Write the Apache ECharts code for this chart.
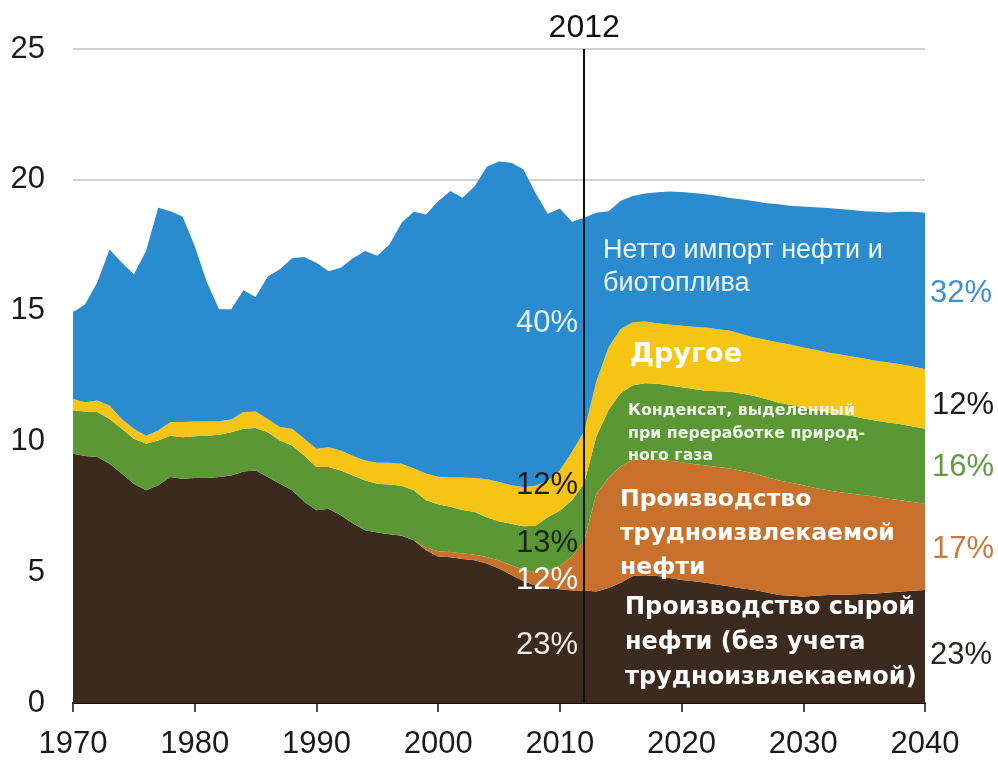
<!DOCTYPE html>
<html>
<head>
<meta charset="utf-8">
<script src="https://cdn.jsdelivr.net/npm/echarts@6/dist/echarts.min.js"></script>
<style>
html,body{margin:0;padding:0;background:#fff;}
#chart{width:998px;height:760px;}
</style>
</head>
<body>
<div id="chart"></div>
<script>
// ---- data (million barrels per day), 1970-2040 ----
var years = ['1970','1971','1972','1973','1974','1975','1976','1977','1978','1979',
  '1980','1981','1982','1983','1984','1985','1986','1987','1988','1989',
  '1990','1991','1992','1993','1994','1995','1996','1997','1998','1999',
  '2000','2001','2002','2003','2004','2005','2006','2007','2008','2009',
  '2010','2011','2012','2013','2014','2015','2016','2017','2018','2019',
  '2020','2021','2022','2023','2024','2025','2026','2027','2028','2029',
  '2030','2031','2032','2033','2034','2035','2036','2037','2038','2039','2040'];

var crudeOil = [9.53,9.44,9.40,9.15,8.77,8.38,8.13,8.32,8.64,8.57,
  8.60,8.60,8.64,8.70,8.85,8.89,8.64,8.38,8.13,7.69,
  7.37,7.43,7.18,6.86,6.60,6.52,6.45,6.39,6.22,5.84,
  5.60,5.57,5.50,5.46,5.33,5.14,4.89,4.66,4.48,4.40,
  4.35,4.30,4.30,4.26,4.40,4.60,4.85,4.88,4.85,4.78,
  4.70,4.65,4.60,4.52,4.45,4.38,4.32,4.22,4.13,4.10,
  4.07,4.10,4.13,4.14,4.15,4.17,4.19,4.22,4.26,4.29,4.32];

var tightOil = [0,0,0,0,0,0,0,0,0,0,
  0,0,0,0,0,0,0,0,0,0,
  0,0,0,0,0,0,0,0,0,0.10,
  0.20,0.20,0.22,0.21,0.25,0.31,0.38,0.44,0.52,0.65,
  0.90,1.30,1.90,3.74,4.20,4.45,4.45,4.46,4.46,4.48,
  4.50,4.49,4.48,4.50,4.51,4.49,4.45,4.42,4.38,4.32,
  4.25,4.12,4.00,3.92,3.85,3.77,3.69,3.59,3.49,3.39,3.30];

var ngpl = [1.65,1.70,1.72,1.71,1.71,1.72,1.78,1.71,1.58,1.59,
  1.60,1.62,1.61,1.65,1.63,1.62,1.71,1.65,1.71,1.77,
  1.65,1.59,1.71,1.84,1.91,1.86,1.90,1.91,1.91,1.81,
  1.80,1.73,1.66,1.63,1.52,1.50,1.58,1.66,1.78,2.05,
  2.10,2.15,2.20,2.20,2.60,2.80,2.85,2.88,2.89,2.88,
  2.87,2.86,2.86,2.90,2.94,2.95,2.97,2.97,2.97,2.97,
  2.98,2.98,2.97,2.97,2.97,2.94,2.91,2.91,2.91,2.89,2.86];

var other = [0.44,0.36,0.44,0.51,0.38,0.38,0.31,0.39,0.52,0.58,
  0.56,0.54,0.52,0.49,0.64,0.63,0.51,0.52,0.64,0.64,
  0.70,0.76,0.76,0.74,0.76,0.80,0.83,0.85,0.83,1.02,
  1.05,1.12,1.24,1.30,1.45,1.50,1.47,1.50,1.52,1.40,
  1.55,1.85,2.00,2.10,2.40,2.45,2.40,2.36,2.32,2.33,
  2.35,2.38,2.41,2.37,2.33,2.28,2.23,2.27,2.30,2.30,
  2.29,2.30,2.30,2.30,2.28,2.29,2.29,2.30,2.29,2.29,2.29];

var netImports = [3.32,3.74,4.52,5.97,5.98,5.91,7.06,8.51,8.06,7.86,
  6.71,5.32,4.28,4.21,4.66,4.38,5.44,6.03,6.52,6.95,
  7.11,6.72,6.99,7.56,8.01,7.92,8.35,9.21,9.82,9.90,
  10.53,10.95,10.69,11.15,11.95,12.25,12.33,12.14,11.20,10.20,
  10.00,8.80,8.15,6.44,5.20,4.90,4.83,4.90,5.00,5.08,
  5.11,5.12,5.10,5.09,5.07,5.15,5.21,5.22,5.29,5.31,
  5.39,5.45,5.52,5.55,5.60,5.63,5.70,5.73,5.83,5.92,5.97];

var xTickLabels = ['1970','1980','1990','2000','2010','2020','2030','2040'];
var yTicks = [0,5,10,15,20,25];
var markYear = '2012';

// ---- chart ----
var FONT = '"Liberation Sans", Arial, sans-serif';
var BOLD = '"DejaVu Sans", Verdana, sans-serif';
function area(name, vals, color, extra){
  var s = {
    name: name, type: 'line', stack: 'total', data: vals,
    symbol: 'none', showSymbol: false, smooth: false,
    lineStyle: {width: 0, color: color},
    areaStyle: {color: color, opacity: 1},
    itemStyle: {color: color},
    silent: true
  };
  if (extra) for (var k in extra) s[k] = extra[k];
  return s;
}
function txt(x, y, text, font, fill, align, vAlign, lh){
  return {type:'text', x:x, y:y, z:100, silent:true,
    style:{text:text, font:font, fill:fill, align:align||'left', verticalAlign:vAlign||'middle',
      textAlign:align||'left', textVerticalAlign:vAlign||'middle', lineHeight:lh}};
}

var chart = echarts.init(document.getElementById('chart'), null, {renderer:'canvas'});
chart.setOption({
  animation: false,
  backgroundColor: '#ffffff',
  grid: {left: 73, right: 73, top: 49, bottom: 55, containLabel: false},
  xAxis: {
    type: 'category', data: years, boundaryGap: false,
    axisLine: {show: true, lineStyle: {color: '#111', width: 2}},
    axisTick: {show: true, length: 9, interval: 9, lineStyle: {color: '#111', width: 1.5}},
    axisLabel: {fontSize: 31, color: '#1a1a1a', fontFamily: FONT, margin: 26, interval: 9,
      formatter: function(v){ return xTickLabels.indexOf(v) >= 0 ? v : ''; }},
    splitLine: {show: false}
  },
  yAxis: {
    type: 'value', min: yTicks[0], max: yTicks[yTicks.length-1], interval: 5,
    axisLine: {show: false}, axisTick: {show: false},
    axisLabel: {fontSize: 31, color: '#1a1a1a', fontFamily: FONT, margin: 28},
    splitLine: {show: true, lineStyle: {color: '#c2c2c2', width: 1.5}}
  },
  series: [
    area('Производство сырой нефти', crudeOil, '#3b2a1d'),
    area('Производство трудноизвлекаемой нефти', tightOil, '#c8712c'),
    area('Конденсат', ngpl, '#5b9735'),
    area('Другое', other, '#f5c414'),
    area('Нетто импорт нефти и биотоплива', netImports, '#2b8bcf', {
      markLine: {
        silent: true, symbol: ['none','none'], animation: false,
        lineStyle: {color: '#111', width: 2, type: 'solid'},
        label: {show: true, position: 'end', formatter: markYear,
          fontSize: 32, color: '#111', fontFamily: FONT, distance: 5},
        data: [{xAxis: markYear}]
      }
    })
  ],
  graphic: [
    txt(603, 234, 'Нетто импорт нефти и\nбиотоплива', '27px ' + FONT, '#f2f7fc', 'left', 'top', 33),
    txt(578, 323, '40%', '31px ' + FONT, '#e4f1fb', 'right'),
    txt(630, 355, 'Другое', 'bold 27px ' + BOLD, '#ffffff', 'left'),
    txt(628, 400, 'Конденсат, выделенный\nпри переработке природ-\nного газа', 'bold 15.8px ' + BOLD, '#eef6ea', 'left', 'top', 22.5),
    txt(620, 483, 'Производство\nтрудноизвлекаемой\nнефти', 'bold 23.5px ' + BOLD, '#ffffff', 'left', 'top', 34),
    txt(625, 590, 'Производство сырой\nнефти (без учета\nтрудноизвлекаемой)', 'bold 24px ' + BOLD, '#ffffff', 'left', 'top', 35),
    txt(578, 485, '12%', '31px ' + FONT, '#1d1d1d', 'right'),
    txt(578, 543, '13%', '31px ' + FONT, '#1b2414', 'right'),
    txt(578, 580, '12%', '31px ' + FONT, '#ffffff', 'right'),
    txt(578, 645, '23%', '31px ' + FONT, '#f1eee9', 'right'),
    txt(930, 293, '32%', '31px ' + FONT, '#3a91d2', 'left'),
    txt(932, 405, '12%', '31px ' + FONT, '#1a1a1a', 'left'),
    txt(932, 467, '16%', '31px ' + FONT, '#5f9b40', 'left'),
    txt(932, 549, '17%', '31px ' + FONT, '#c8793a', 'left'),
    txt(930, 655, '23%', '31px ' + FONT, '#2b2520', 'left')
  ]
});
</script>
</body>
</html>
